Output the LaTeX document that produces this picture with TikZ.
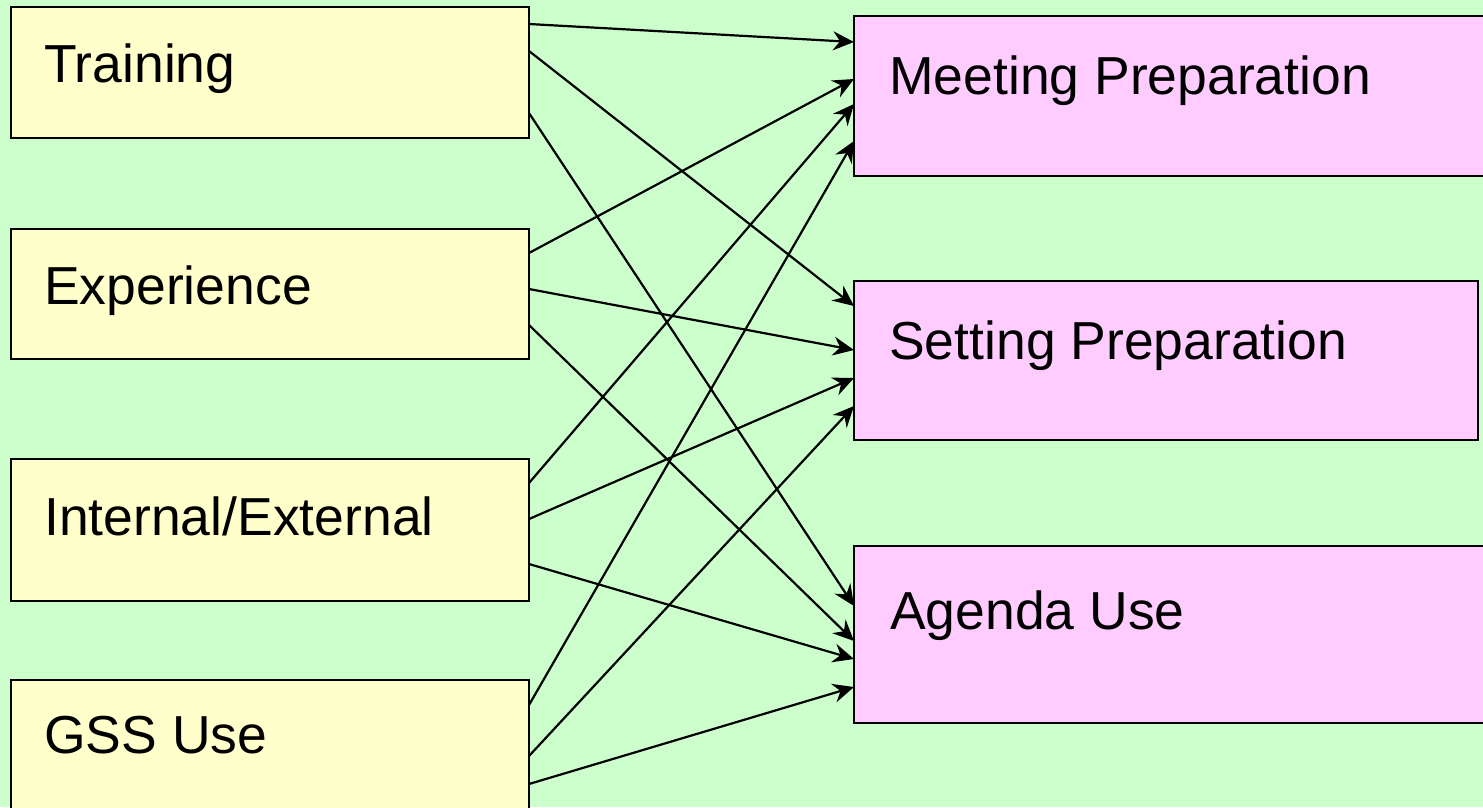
\documentclass[tikz,border=0pt]{standalone}
\usepackage{fontspec}
\setmainfont{Liberation Sans}
\usetikzlibrary{arrows.meta,calc}
\definecolor{bggreen}{HTML}{CCFFCC}
\definecolor{boxyellow}{HTML}{FFFFCC}
\definecolor{boxpink}{HTML}{FFCCFF}
\tikzset{
  lbox/.style={draw=black, line width=2.5pt, fill=boxyellow, rectangle, inner sep=0pt, outer sep=0pt, anchor=north west},
  rbox/.style={draw=black, line width=2.5pt, fill=boxpink, rectangle, inner sep=0pt, outer sep=0pt, anchor=north west},
  lbl/.style={anchor=base west, inner sep=0pt, font=\fontsize{53.5}{60}\selectfont},
  conn/.style={draw=black, line width=2.2pt, -{Stealth[length=21pt,width=19pt,inset=7pt]}}
}
\begin{document}
\begin{tikzpicture}[x=1pt,y=-1pt]
\useasboundingbox (0,0) rectangle (1483,807);
\clip (0,0) rectangle (1483,807);
\fill[bggreen] (0,0) rectangle (1483,807);
% left boxes
\node[lbox, minimum width=518pt, minimum height=131pt] (train) at (11,7) {};
\node[lbox, minimum width=518pt, minimum height=130pt] (exp) at (11,229) {};
\node[lbox, minimum width=518pt, minimum height=142pt] (ie) at (11,459) {};
\node[lbox, minimum width=518pt, minimum height=160pt] (gss) at (11,680) {};
% right boxes
\node[rbox, minimum width=660pt, minimum height=160pt] (meet) at (854,16) {};
\node[rbox, minimum width=624pt, minimum height=159pt] (set) at (854,281) {};
\node[rbox, minimum width=660pt, minimum height=177pt] (agenda) at (854,546) {};
% labels
\node[lbl] (ttrain) at (44,82) {Training};
\node[lbl] (texp) at (44,304) {Experience};
\node[lbl] (tie) at (44,535) {Internal/External};
\node[lbl] (tgss) at (44,753) {GSS Use};
\node[lbl] (tmeet) at (889,94) {Meeting Preparation};
\node[lbl] (tset) at (889,359) {Setting Preparation};
\node[lbl] (tagenda) at (890,629) {Agenda Use};
% connectors
\draw[conn] ($(train.north east)+(0,17)$) -- ($(meet.north west)+(0,26)$);
\draw[conn] ($(train.north east)+(0,44)$) -- ($(set.north west)+(0,25)$);
\draw[conn] ($(train.north east)+(0,106)$) -- ($(agenda.north west)+(0,60)$);
\draw[conn] ($(exp.north east)+(0,24)$) -- ($(meet.north west)+(0,63)$);
\draw[conn] ($(exp.north east)+(0,60)$) -- ($(set.north west)+(0,69)$);
\draw[conn] ($(exp.north east)+(0,96)$) -- ($(agenda.north west)+(0,95)$);
\draw[conn] ($(ie.north east)+(0,24)$) -- ($(meet.north west)+(0,88)$);
\draw[conn] ($(ie.north east)+(0,60)$) -- ($(set.north west)+(0,97)$);
\draw[conn] ($(ie.north east)+(0,105)$) -- ($(agenda.north west)+(0,113)$);
\draw[conn] ($(gss.north east)+(0,25)$) -- ($(meet.north west)+(0,125)$);
\draw[conn] ($(gss.north east)+(0,76)$) -- ($(set.north west)+(0,125)$);
\draw[conn] ($(gss.north east)+(0,104)$) -- ($(agenda.north west)+(0,141)$);
\end{tikzpicture}
\end{document}
